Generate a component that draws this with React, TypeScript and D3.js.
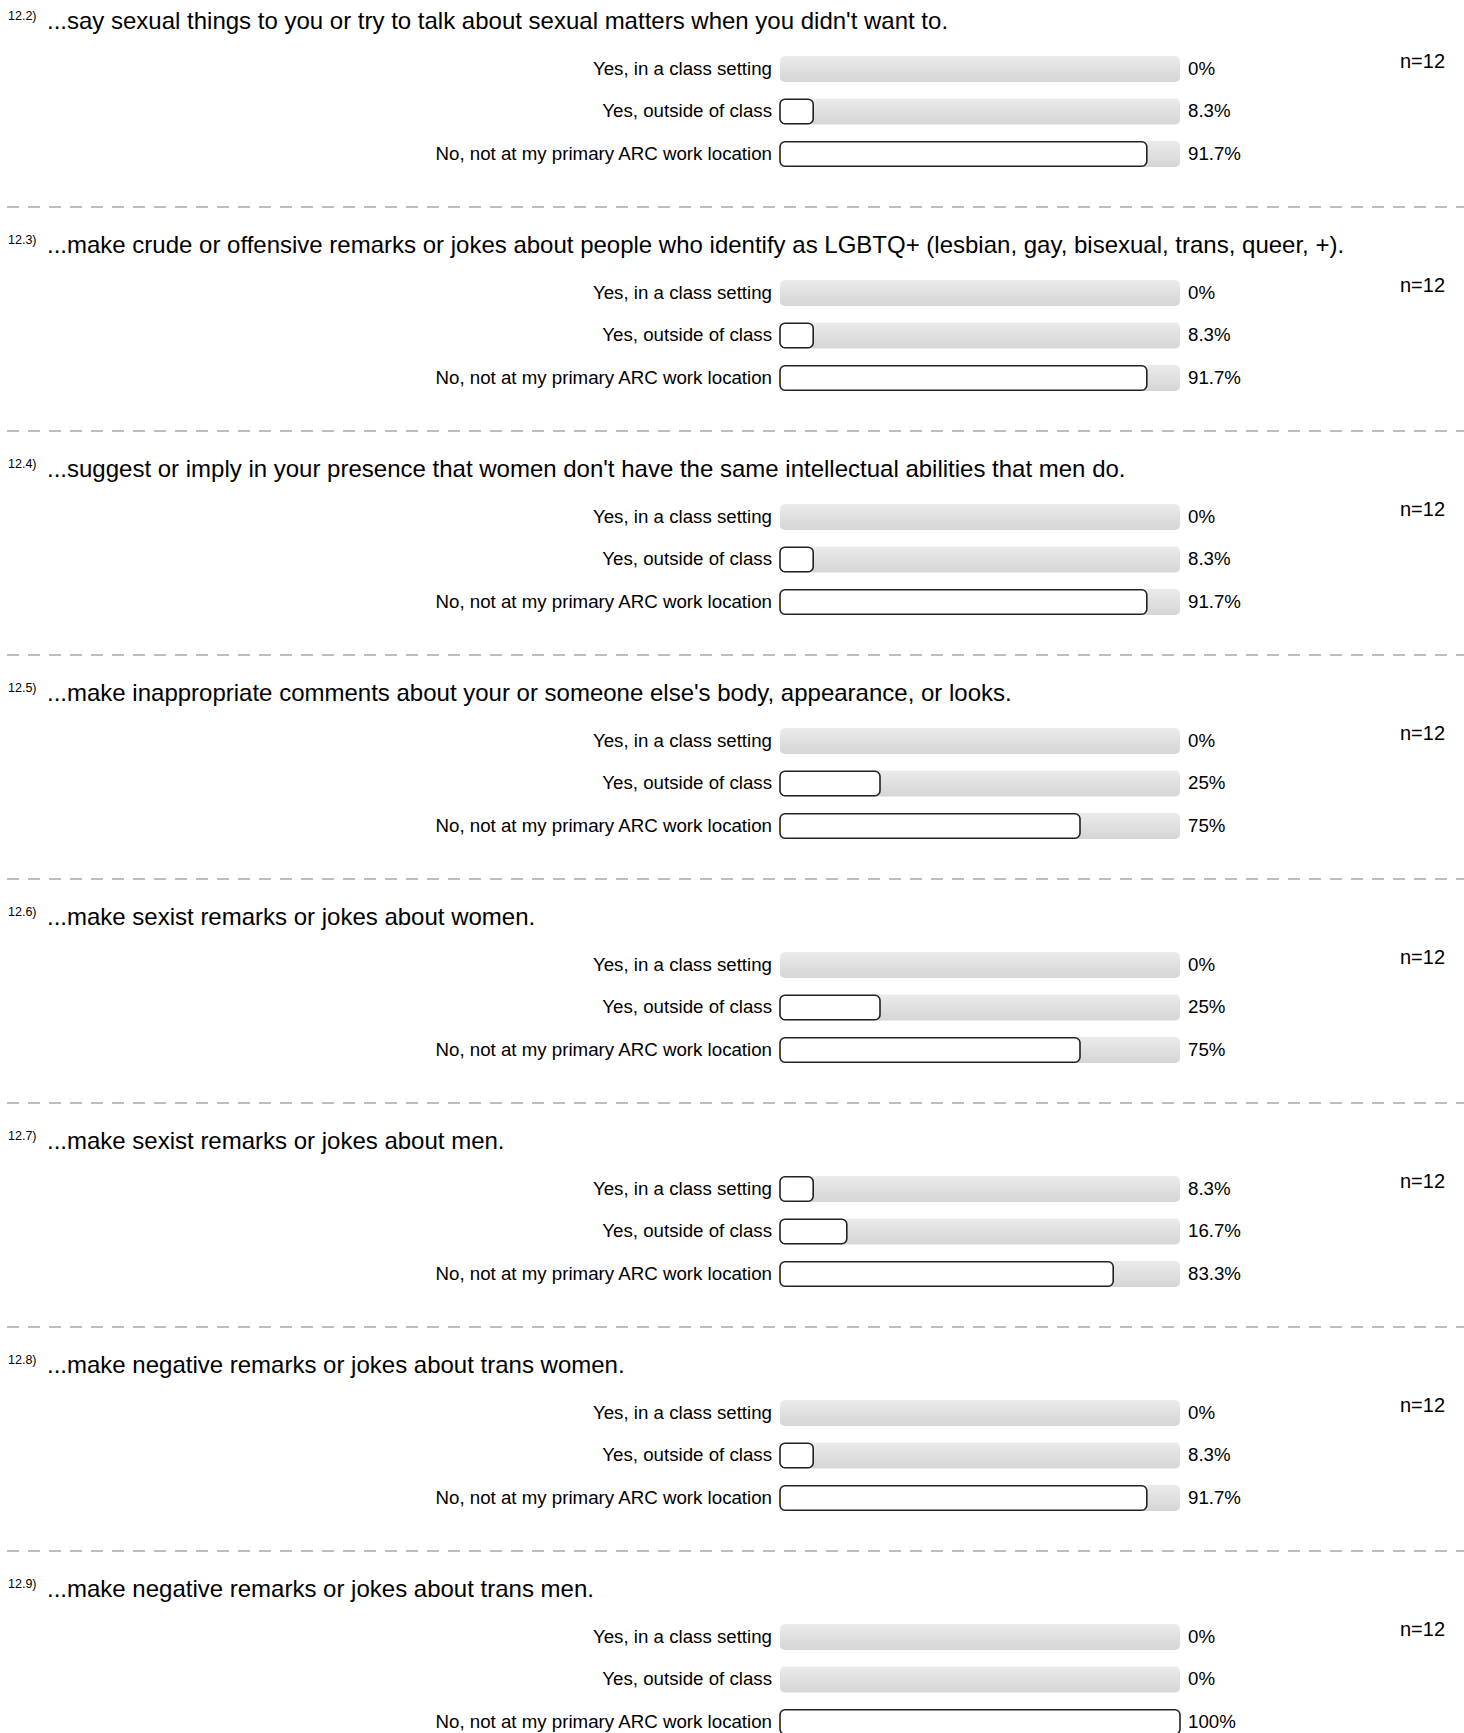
import React from "react";
import * as d3 from "d3";

const W = 1464;
const H = 1733;

// question ids, texts and answer shares (%)
const questionIds = ["12.2)", "12.3)", "12.4)", "12.5)", "12.6)", "12.7)", "12.8)", "12.9)"];
const questionTexts = [
  "...say sexual things to you or try to talk about sexual matters when you didn't want to.",
  "...make crude or offensive remarks or jokes about people who identify as LGBTQ+ (lesbian, gay, bisexual, trans, queer, +).",
  "...suggest or imply in your presence that women don't have the same intellectual abilities that men do.",
  "...make inappropriate comments about your or someone else's body, appearance, or looks.",
  "...make sexist remarks or jokes about women.",
  "...make sexist remarks or jokes about men.",
  "...make negative remarks or jokes about trans women.",
  "...make negative remarks or jokes about trans men.",
];
const answers = ["Yes, in a class setting", "Yes, outside of class", "No, not at my primary ARC work location"];
const shares = [
  [0, 8.3, 91.7],
  [0, 8.3, 91.7],
  [0, 8.3, 91.7],
  [0, 25, 75],
  [0, 25, 75],
  [8.3, 16.7, 83.3],
  [0, 8.3, 91.7],
  [0, 0, 100],
];
const counts = [12, 12, 12, 12, 12, 12, 12, 12];

const font = "'Liberation Sans', Arial, Helvetica, sans-serif";
const sectionH = 224;

const x = d3.scaleLinear().domain([0, 100]).range([780, 1180]);
const row = d3.scaleBand<string>().domain(answers).range([56, 167]).paddingInner(0.388).paddingOuter(0);
const section = d3.scaleLinear().domain([0, 1]).range([0, sectionH]);

export default function App() {
  const bh = row.bandwidth();
  return (
    <div style={{ position: "absolute", left: 0, top: 0 }}>
      <svg width={W} height={H} style={{ display: "block", fontFamily: font }}>
        <defs>
          <linearGradient id="track" x1="0" y1="0" x2="0" y2="1">
            <stop offset="0%" stopColor="#ebebeb" />
            <stop offset="100%" stopColor="#d5d5d5" />
          </linearGradient>
        </defs>
        <rect width={W} height={H} fill="#fff" />
        {questionTexts.map((q, i) => (
          <g key={i} transform={`translate(0,${section(i)})`}>
            <text x={8} y={19.5} fontSize={12.5} fill="#000">{questionIds[i]}</text>
            <text x={47} y={28.5} fontSize={24} fill="#000">{q}</text>
            <text x={1400} y={68} fontSize={20} fill="#000">n={counts[i]}</text>
            {answers.map((a, j) => {
              const y = row(a)!;
              const v = shares[i][j];
              return (
                <g key={a}>
                  <text x={772} y={y + bh / 2 + 5.8} fontSize={18.7} textAnchor="end" fill="#000">{a}</text>
                  <rect x={x(0)} y={y} width={x(100) - x(0)} height={bh} rx={5} fill="url(#track)" />
                  {v > 0 && (
                    <rect x={x(0)} y={y + 0.75} width={x(v) - x(0)} height={bh - 1.5} rx={5}
                      fill="#fff" stroke="#222" strokeWidth={1.6} />
                  )}
                  <text x={1188} y={y + bh / 2 + 5.8} fontSize={18.7} fill="#000">{`${v}%`}</text>
                </g>
              );
            })}
            {i < questionTexts.length - 1 && (
              <line x1={7} x2={W} y1={207} y2={207} stroke="#a8a8a8" strokeWidth={1.4} strokeDasharray="12 9" />
            )}
          </g>
        ))}
      </svg>
    </div>
  );
}
